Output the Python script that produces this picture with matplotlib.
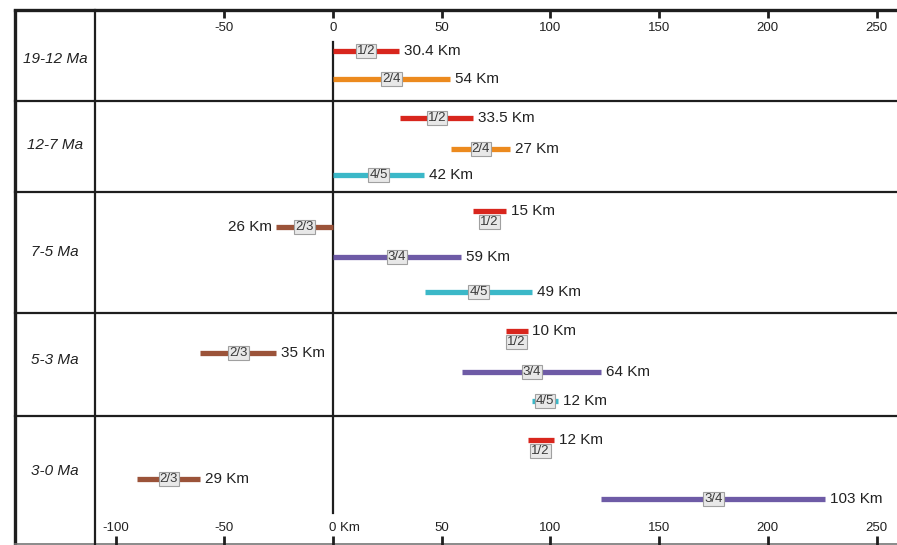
import matplotlib
matplotlib.use("Agg")
import matplotlib.pyplot as plt

plt.rcParams["font.family"] = ["Liberation Sans", "DejaVu Sans"]

# Time windows (rows) and the fault-segment shortening bars
periods = ["19-12 Ma", "12-7 Ma", "7-5 Ma", "5-3 Ma", "3-0 Ma"]
seg_period = [0, 0, 1, 1, 1, 2, 2, 2, 2, 3, 3, 3, 3, 4, 4, 4]
seg_pair = ["1/2", "2/4", "1/2", "2/4", "4/5", "1/2", "2/3", "3/4", "4/5",
            "1/2", "2/3", "3/4", "4/5", "1/2", "2/3", "3/4"]
seg_start = [0, 0, 31, 54.5, 0, 64.5, -26, 0, 42.5,
             79.5, -61, 59.5, 91.5, 89.5, -90, 123.5]
seg_km = [30.4, 54, 33.5, 27, 42, 15, 26, 59, 49, 10, 35, 64, 12, 12, 29, 103]
top_ticks = [-50, 0, 50, 100, 150, 200, 250]
bottom_ticks = [-100, -50, 0, 50, 100, 150, 200, 250]

pair_colours = {
    "1/2": "#d8261d",
    "2/4": "#ec8a1e",
    "4/5": "#3bb8c8",
    "2/3": "#9b5339",
    "3/4": "#6e5ba6",
}

# Layout (pixel rows, top = 0) -- positions only, not data
W, H = 897, 545
ZERO_PX, PX_PER_KM = 333, 2.174
row_tops = [10, 101, 192, 313, 416]
row_label_y = [59, 145, 252, 360, 471]
bar_y = [51, 79, 118, 149, 175, 211, 227, 257, 292, 331, 353, 372, 401, 440, 479, 499]
box_below = {5, 9, 13}
label_left = {6}


def px_to_km(px):
    return (px - ZERO_PX) / PX_PER_KM


fig = plt.figure(figsize=(W / 100, H / 100), dpi=100)
ax = fig.add_axes([0, 0, 1, 1])
ax.set_xlim(px_to_km(0), px_to_km(W))
ax.set_ylim(H, 0)
ax.axis("off")

frame = "#1e1e1e"
x_left = px_to_km(15)
x_div = px_to_km(95)
x_right = px_to_km(W)

# Table frame
ax.plot([x_left, x_left], [9, H], color=frame, lw=2.4, solid_capstyle="butt")
ax.plot([x_left, x_right], [row_tops[0], row_tops[0]], color=frame, lw=2.4)
for y in row_tops[1:]:
    ax.plot([x_left, x_right], [y, y], color=frame, lw=1.6)
ax.plot([x_left, x_right], [H - 1, H - 1], color="#777777", lw=1.2)
ax.plot([x_div, x_div], [row_tops[0], H], color=frame, lw=1.6)
ax.plot([0, 0], [42, 513], color=frame, lw=1.6)

# Scale ticks top and bottom
for t in top_ticks:
    ax.plot([t, t], [row_tops[0], 18], color=frame, lw=2.0, solid_capstyle="butt")
    ax.text(t, 28, f"{t}", ha="center", va="center", fontsize=9.5, color="#222222")
for t in bottom_ticks:
    ax.plot([t, t], [536, H], color=frame, lw=2.0, solid_capstyle="butt")
    if t == 0:
        ax.annotate("0 Km", (0, 528), xytext=(-2.7, 0), textcoords="offset points",
                    ha="left", va="center", fontsize=9.5, color="#222222")
    else:
        ax.text(t, 528, f"{t}", ha="center", va="center", fontsize=9.5, color="#222222")

# Row labels
for name, y in zip(periods, row_label_y):
    ax.text(px_to_km(55), y, name, ha="center", va="center", fontsize=11,
            style="italic", color="#222222")

# Segment bars
box_style = dict(boxstyle="square,pad=0.08", fc="#e8e8e8", ec="#a0a0a0", lw=0.8)
for i, (pair, start, km) in enumerate(zip(seg_pair, seg_start, seg_km)):
    y = bar_y[i]
    end = start + km
    ax.plot([start, end], [y, y], color=pair_colours[pair], lw=3.8,
            solid_capstyle="butt")
    mid = (start + end) / 2
    if i in box_below:
        ax.text(mid, y + 11, pair, ha="center", va="center", fontsize=9.5,
                color="#3a3a3a", bbox=box_style)
    else:
        ax.text(mid, y, pair, ha="center", va="center", fontsize=9.5,
                color="#3a3a3a", bbox=box_style)
    text = f"{km:g} Km"
    if i in label_left:
        ax.annotate(text, (start, y), xytext=(-3.5, 0), textcoords="offset points",
                    ha="right", va="center", fontsize=11, color="#222222")
    else:
        ax.annotate(text, (end, y), xytext=(3.5, 0), textcoords="offset points",
                    ha="left", va="center", fontsize=11, color="#222222")

fig.savefig("out.png", dpi=100)
